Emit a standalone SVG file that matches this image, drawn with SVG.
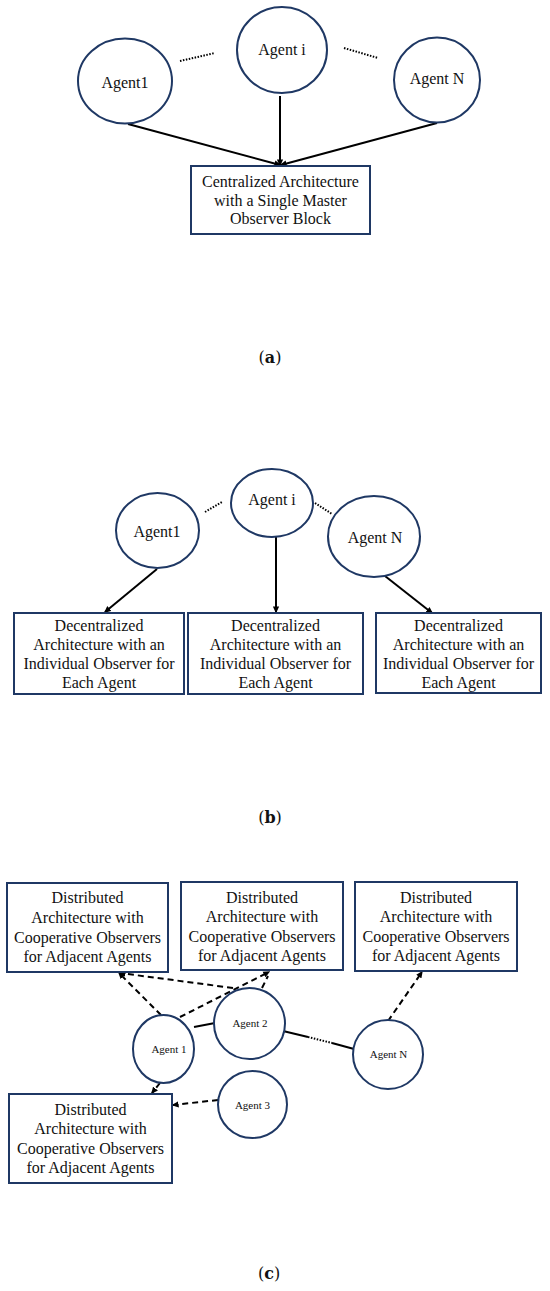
<svg xmlns="http://www.w3.org/2000/svg" width="550" height="1291" viewBox="0 0 550 1291">
<style>
.node{fill:#fff;stroke:#1f3864;stroke-width:2}
.t{font-family:"Liberation Serif","Times New Roman",serif;font-size:16px;fill:#111;text-anchor:middle}
.ts{font-family:"Liberation Serif","Times New Roman",serif;font-size:11px;fill:#111;text-anchor:middle}
.cap{font-family:"DejaVu Serif","Liberation Serif",serif;font-size:16px;fill:#111;text-anchor:middle}
.ln{stroke:#000;stroke-width:2;fill:none}
.dot{stroke:#000;stroke-width:2;fill:none;stroke-dasharray:1.5 1.5}
.dash{stroke:#000;stroke-width:2;fill:none;stroke-dasharray:6 4}
</style>
<defs>
<marker id="ah" viewBox="0 0 10 10" refX="8" refY="5" markerWidth="7" markerHeight="7" markerUnits="userSpaceOnUse" orient="auto">
<path d="M0,0.5 L10,5 L0,9.5 z" fill="#000"/>
</marker>
</defs>
<rect width="550" height="1291" fill="#fff"/>

<!-- Connectors -->
<g id="connectors">
<!-- (a) -->
<line class="dot" x1="180" y1="61" x2="215" y2="53"/>
<line class="dot" x1="344" y1="48" x2="378" y2="58"/>
<line class="ln" x1="128" y1="124" x2="280" y2="165" marker-end="url(#ah)"/>
<line class="ln" x1="280" y1="96" x2="280" y2="165" marker-end="url(#ah)"/>
<line class="ln" x1="437" y1="123" x2="281" y2="165" marker-end="url(#ah)"/>
<!-- (b) -->
<line class="dot" x1="205" y1="512" x2="222" y2="502"/>
<line class="dot" x1="315" y1="503" x2="332" y2="514"/>
<line class="ln" x1="157" y1="569" x2="105" y2="612" marker-end="url(#ah)"/>
<line class="ln" x1="276" y1="537" x2="276" y2="612" marker-end="url(#ah)"/>
<line class="ln" x1="385" y1="576" x2="432" y2="613" marker-end="url(#ah)"/>
<!-- (c) -->
<line class="ln" x1="194" y1="1027" x2="215" y2="1023"/>
<line class="ln" x1="283" y1="1031" x2="308" y2="1037"/>
<line class="dot" x1="308" y1="1037" x2="332" y2="1043"/>
<line class="ln" x1="332" y1="1043" x2="354" y2="1049"/>
<line class="dash" x1="161" y1="1015" x2="119" y2="973" marker-end="url(#ah)"/>
<line class="dash" x1="233" y1="988" x2="120" y2="973" marker-end="url(#ah)"/>
<line class="dash" x1="180" y1="1017" x2="269" y2="972" marker-end="url(#ah)"/>
<line class="dash" x1="262" y1="988" x2="268" y2="976"/>
<line class="dash" x1="388" y1="1021" x2="422" y2="972" marker-end="url(#ah)"/>
<line class="dash" x1="160" y1="1083" x2="152" y2="1093" marker-end="url(#ah)"/>
<line class="dash" x1="218" y1="1100" x2="173" y2="1105" marker-end="url(#ah)"/>
</g>

<!-- (a) nodes -->
<g id="a-agent1"><ellipse class="node" cx="125" cy="81" rx="47" ry="42.5"/><text class="t" x="125" y="88">Agent1</text></g>
<g id="a-agenti"><ellipse class="node" cx="282" cy="50" rx="45" ry="43"/><text class="t" x="282" y="55">Agent i</text></g>
<g id="a-agentN"><ellipse class="node" cx="437" cy="80" rx="43" ry="42.5"/><text class="t" x="437" y="84">Agent N</text></g>
<g id="a-box"><rect class="node" x="191" y="166" width="179" height="68"/>
<text class="t" x="280.5" y="187">Centralized Architecture</text>
<text class="t" x="280.5" y="205.5">with a Single Master</text>
<text class="t" x="280.5" y="224">Observer Block</text></g>
<text class="cap" x="270" y="363">(<tspan font-weight="bold">a</tspan>)</text>

<!-- (b) nodes -->
<g id="b-agent1"><ellipse class="node" cx="157.5" cy="530.5" rx="41.5" ry="37.5"/><text class="t" x="157" y="537">Agent1</text></g>
<g id="b-agenti"><ellipse class="node" cx="272" cy="503" rx="41" ry="34"/><text class="t" x="272" y="505">Agent i</text></g>
<g id="b-agentN"><ellipse class="node" cx="374" cy="536.5" rx="46" ry="40.5"/><text class="t" x="375" y="543">Agent N</text></g>
<g id="b-box1"><rect class="node" x="14" y="613" width="170" height="81"/>
<text class="t" x="99" y="631">Decentralized</text>
<text class="t" x="99" y="650">Architecture with an</text>
<text class="t" x="99" y="669">Individual Observer for</text>
<text class="t" x="99" y="688">Each Agent</text></g>
<g id="b-box2"><rect class="node" x="188" y="613" width="175" height="81"/>
<text class="t" x="275.5" y="631">Decentralized</text>
<text class="t" x="275.5" y="650">Architecture with an</text>
<text class="t" x="275.5" y="669">Individual Observer for</text>
<text class="t" x="275.5" y="688">Each Agent</text></g>
<g id="b-box3"><rect class="node" x="376" y="613" width="165" height="80"/>
<text class="t" x="458.5" y="631">Decentralized</text>
<text class="t" x="458.5" y="650">Architecture with an</text>
<text class="t" x="458.5" y="669">Individual Observer for</text>
<text class="t" x="458.5" y="688">Each Agent</text></g>
<text class="cap" x="270" y="823">(<tspan font-weight="bold">b</tspan>)</text>

<!-- (c) nodes -->
<g id="c-box1"><rect class="node" x="7" y="883" width="161" height="89"/>
<text class="t" x="87.5" y="903">Distributed</text>
<text class="t" x="87.5" y="923">Architecture with</text>
<text class="t" x="87.5" y="943">Cooperative Observers</text>
<text class="t" x="87.5" y="962">for Adjacent Agents</text></g>
<g id="c-box2"><rect class="node" x="181" y="882" width="162" height="88"/>
<text class="t" x="262" y="903">Distributed</text>
<text class="t" x="262" y="922">Architecture with</text>
<text class="t" x="262" y="942">Cooperative Observers</text>
<text class="t" x="262" y="961">for Adjacent Agents</text></g>
<g id="c-box3"><rect class="node" x="355" y="882" width="162" height="89"/>
<text class="t" x="436" y="903">Distributed</text>
<text class="t" x="436" y="922">Architecture with</text>
<text class="t" x="436" y="942">Cooperative Observers</text>
<text class="t" x="436" y="961">for Adjacent Agents</text></g>
<g id="c-box4"><rect class="node" x="9" y="1094" width="163" height="89"/>
<text class="t" x="90.5" y="1115">Distributed</text>
<text class="t" x="90.5" y="1134">Architecture with</text>
<text class="t" x="90.5" y="1154">Cooperative Observers</text>
<text class="t" x="90.5" y="1173">for Adjacent Agents</text></g>
<g id="c-agent1"><ellipse class="node" cx="163.5" cy="1049" rx="30.5" ry="34"/><text class="ts" x="169" y="1053">Agent 1</text></g>
<g id="c-agent2"><ellipse class="node" cx="249.5" cy="1023.5" rx="35.5" ry="35.5"/><text class="ts" x="250" y="1027">Agent 2</text></g>
<g id="c-agent3"><ellipse class="node" cx="252.5" cy="1104.5" rx="34.5" ry="33.5"/><text class="ts" x="252.5" y="1109">Agent 3</text></g>
<g id="c-agentN"><ellipse class="node" cx="388" cy="1054.5" rx="35" ry="34.5"/><text class="ts" x="388.5" y="1058">Agent N</text></g>
<text class="cap" x="269" y="1279">(<tspan font-weight="bold">c</tspan>)</text>
</svg>
